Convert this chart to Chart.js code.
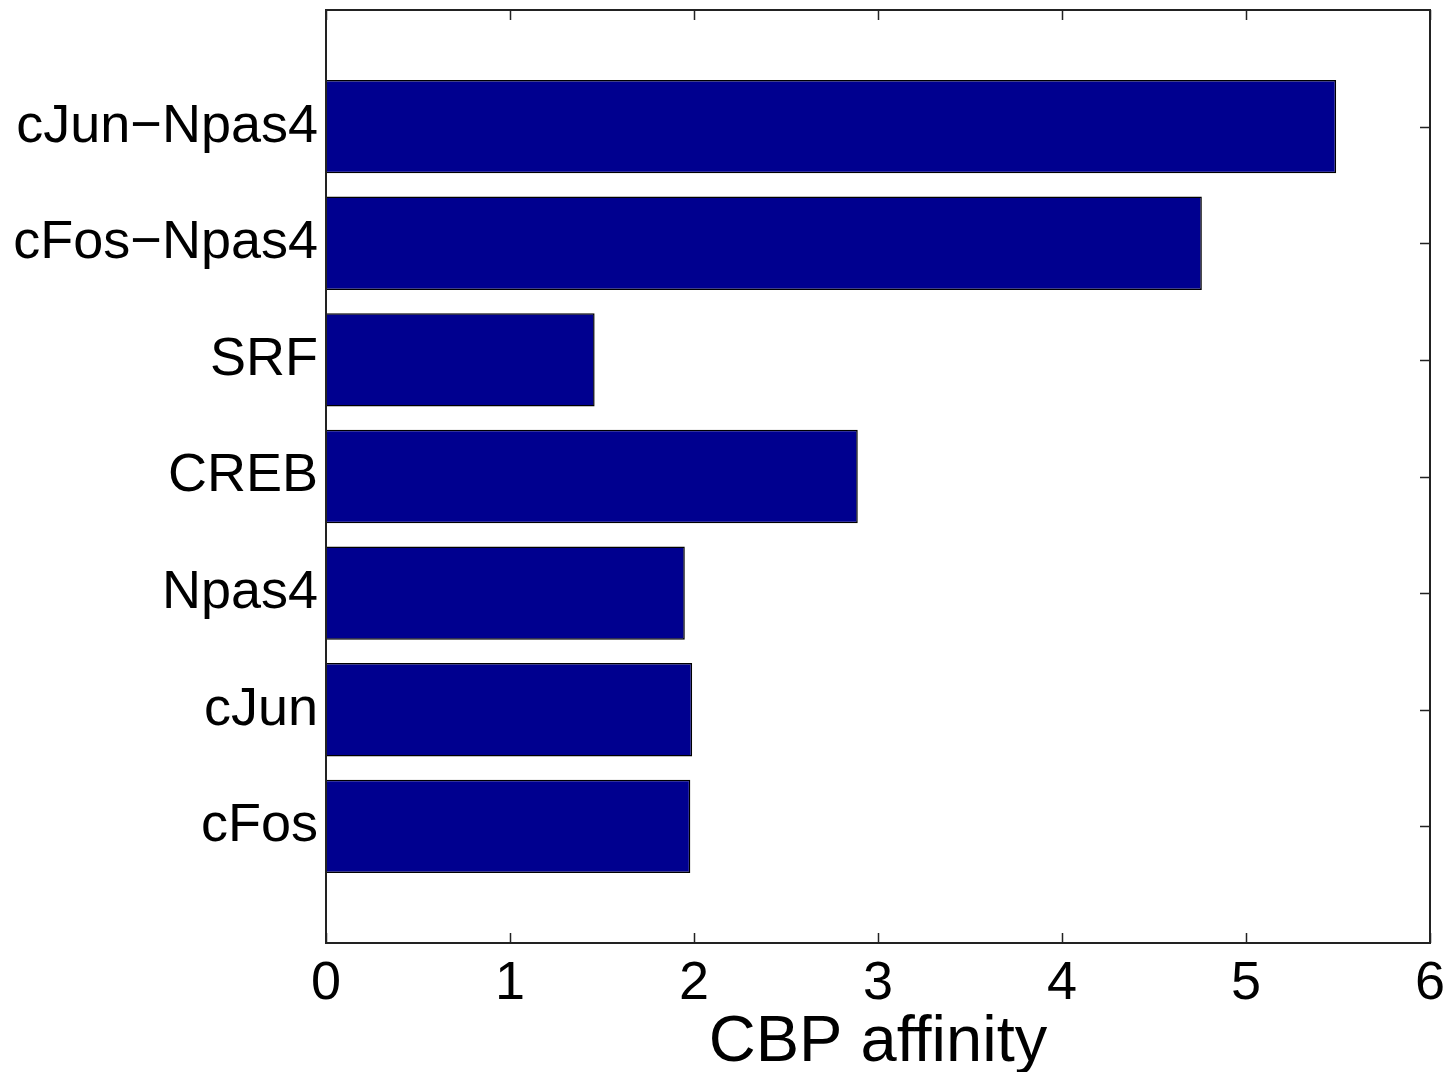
<!DOCTYPE html>
<html>
<head>
<meta charset="utf-8">
<script src="https://cdn.jsdelivr.net/npm/chart.js@4.4.0/dist/chart.umd.min.js"></script>
<style>
    html, body { margin: 0; padding: 0; background: #fff; }
    #wrap { width: 1450px; height: 1072px; }
</style>
</head>
<body>
<div id="wrap"><canvas id="cbpChart" width="1450" height="1072"></canvas></div>
<script>
// bottom to top, as in the original barh
const categories = ['cFos', 'cJun', 'Npas4', 'CREB', 'SRF', 'cFos\u2212Npas4', 'cJun\u2212Npas4'];
const affinity = [1.98, 1.99, 1.95, 2.89, 1.46, 4.76, 5.49];
const xTicks = [0, 1, 2, 3, 4, 5, 6];

const positions = categories.map((c, i) => i + 1);
const points = affinity.map((v, i) => ({ x: v, y: positions[i] }));

const FONT = "'Liberation Sans', Arial, Helvetica, sans-serif";

// matlab style box with inward tick marks
const boxPlugin = {
    id: 'box',
    afterDraw(chart) {
        const { ctx, chartArea: a, scales } = chart;
        const len = 10;
        ctx.save();
        ctx.strokeStyle = '#222';
        ctx.lineWidth = 1.5;
        ctx.beginPath();
        xTicks.forEach(t => {
            const px = Math.round(scales.x.getPixelForValue(t)) + 0.5;
            ctx.moveTo(px, a.bottom); ctx.lineTo(px, a.bottom - len);
            ctx.moveTo(px, a.top); ctx.lineTo(px, a.top + len);
        });
        positions.forEach(p => {
            const py = Math.round(scales.y.getPixelForValue(p)) + 0.5;
            ctx.moveTo(a.right, py); ctx.lineTo(a.right - len, py);
        });
        ctx.stroke();
        ctx.lineWidth = 2;
        ctx.strokeRect(a.left, a.top, a.right - a.left, a.bottom - a.top);
        ctx.restore();
    }
};

new Chart(document.getElementById('cbpChart'), {
    type: 'bar',
    data: {
        datasets: [{
            data: points,
            backgroundColor: '#00008F',
            borderColor: '#000',
            borderWidth: 1.5,
            barPercentage: 0.8,
            categoryPercentage: 1.0
        }]
    },
    options: {
        indexAxis: 'y',
        responsive: false,
        animation: false,
        layout: { padding: { top: 10, right: 20, left: 0, bottom: 0 } },
        plugins: { legend: { display: false }, tooltip: { enabled: false } },
        scales: {
            x: {
                type: 'linear',
                min: 0,
                max: 6,
                afterBuildTicks: s => { s.ticks = xTicks.map(v => ({ value: v })); },
                afterFit: s => { s.height = 129; s.paddingLeft = 0; s.paddingRight = 0; },
                grid: { display: false, drawTicks: false },
                border: { display: false },
                ticks: { color: '#000', padding: 9, font: { family: FONT, size: 54 } },
                title: {
                    display: true,
                    text: 'CBP affinity',
                    color: '#000',
                    padding: { top: 0, bottom: -10 },
                    font: { family: FONT, size: 65 }
                }
            },
            y: {
                type: 'linear',
                offset: false,
                min: 0,
                max: 8,
                afterBuildTicks: s => { s.ticks = positions.map(v => ({ value: v })); },
                afterFit: s => { s.width = 326; s.paddingTop = 0; s.paddingBottom = 0; },
                grid: { display: false, drawTicks: false, offset: false },
                border: { display: false },
                ticks: {
                    color: '#000',
                    padding: 8,
                    font: { family: FONT, size: 54 },
                    callback: v => categories[v - 1]
                }
            }
        }
    },
    plugins: [boxPlugin]
});
</script>
</body>
</html>
